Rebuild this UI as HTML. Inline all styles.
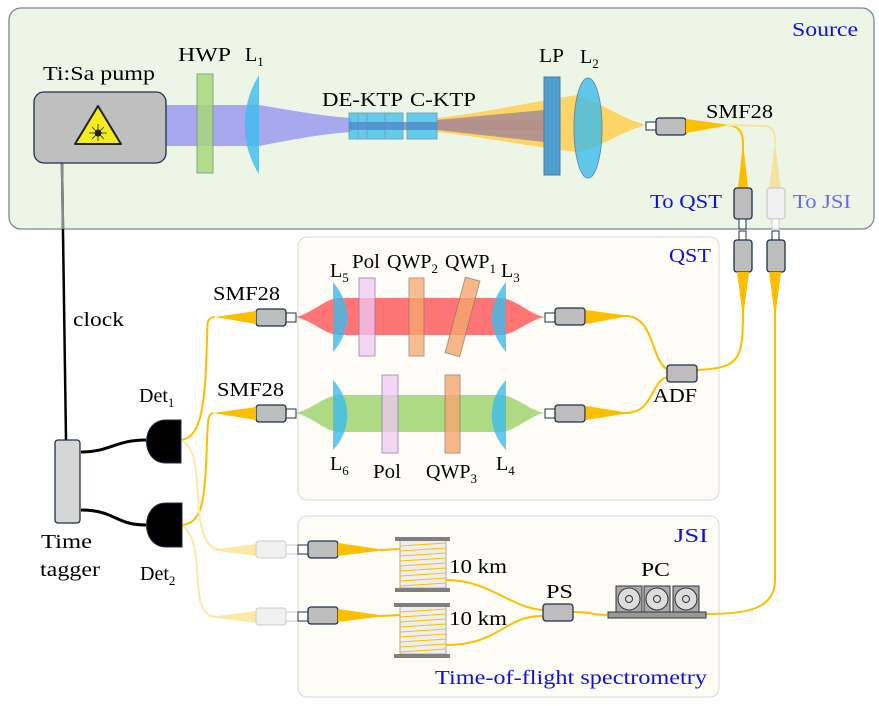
<!DOCTYPE html>
<html><head><meta charset="utf-8"><style>
html,body{margin:0;padding:0;background:#fff}
svg{display:block}
text{font-family:"Liberation Serif",serif;font-size:20px;fill:#000}
.b{fill:#1010e0}
</style></head><body>
<svg width="879" height="706" viewBox="0 0 879 706" xmlns="http://www.w3.org/2000/svg">
<defs>
<g id="cg"><rect x="0" y="0" width="30" height="17" rx="3" fill="#bdbdbd" stroke="#1f2f4a" stroke-width="1.3"/></g>
</defs>
<!-- boxes -->
<rect x="9" y="8" width="865" height="221" rx="12" fill="#edf5e6" stroke="#7a8898" stroke-width="1.3"/>
<rect x="298" y="237" width="421" height="263" rx="9" fill="#fdfcf6" stroke="#d8d8d8"/>
<rect x="298" y="516" width="421" height="181" rx="9" fill="#fdfcf6" stroke="#d8d8d8"/>
<text x="792" y="36" class="b" textLength="66" lengthAdjust="spacingAndGlyphs">Source</text>
<text x="669" y="262" class="b" textLength="42" lengthAdjust="spacingAndGlyphs">QST</text>
<text x="674" y="542" class="b" textLength="34" lengthAdjust="spacingAndGlyphs">JSI</text>
<text x="435" y="684" class="b" textLength="272" lengthAdjust="spacingAndGlyphs">Time-of-flight spectrometry</text>

<!-- pump -->
<line x1="62" y1="163" x2="66" y2="440" stroke="#000" stroke-width="2.5"/>
<line x1="62" y1="163" x2="63" y2="229" stroke="#888" stroke-width="2.5"/>
<text x="43" y="80" textLength="112" lengthAdjust="spacingAndGlyphs">Ti:Sa pump</text>
<text x="178" y="61" textLength="53" lengthAdjust="spacingAndGlyphs">HWP</text>
<text x="245" y="61">L<tspan dy="5" font-size="13">1</tspan></text>
<text x="322" y="106" textLength="81" lengthAdjust="spacingAndGlyphs">DE-KTP</text>
<text x="410" y="106" textLength="66" lengthAdjust="spacingAndGlyphs">C-KTP</text>
<text x="539" y="62" textLength="25" lengthAdjust="spacingAndGlyphs">LP</text>
<text x="580" y="63">L<tspan dy="5" font-size="13">2</tspan></text>
<text x="706" y="118" textLength="67" lengthAdjust="spacingAndGlyphs">SMF28</text>
<text x="650" y="208" class="b" textLength="72" lengthAdjust="spacingAndGlyphs">To QST</text>
<text x="793" y="208" class="b" style="fill:#6868f0" textLength="58" lengthAdjust="spacingAndGlyphs">To JSI</text>

<!-- blue beam -->
<path d="M166,105 L259,105 C290,110 320,116 352,118 L352,132 C320,134 290,140 259,146 L166,146 Z" fill="#a8a8ee"/>
<!-- yellow cone -->
<path d="M437,118 C490,112 540,100 578,95 C605,105 625,120 646,125 C625,130 605,145 578,152 C540,148 490,138 437,132 Z" fill="#fdd566"/>
<path d="M437,120 L544,110 L544,142 L437,130 Z" fill="#b4968c"/>
<rect x="437" y="120" width="107" height="10" fill="#b48c88" opacity="0.6"/>
<rect x="197" y="74" width="16" height="99" fill="#a9d87c" stroke="#6f9a8a" opacity="0.85"/>
<path d="M259,75 C240,105 240,145 259,174 Z" fill="#3cbcec" opacity="0.8"/>
<g fill="#4ec4ec" stroke="#5a9ab8" opacity="0.85">
<rect x="349" y="113" width="9" height="26"/><rect x="358" y="113" width="9" height="26"/><rect x="367" y="113" width="18" height="26"/><rect x="385" y="113" width="18" height="26"/>
<rect x="407" y="113" width="30" height="26"/>
</g>
<rect x="349" y="122" width="88" height="8" fill="#4a80c8" opacity="0.7"/>
<rect x="544" y="77" width="16" height="98" fill="#4f9fd0" stroke="#4a7a9a"/>
<ellipse cx="588" cy="128" rx="14" ry="50" fill="#3cbcec" stroke="#4a7a9a" opacity="0.8"/>
<!-- pump box -->
<rect x="34" y="92" width="132" height="71" rx="10" fill="#bfbfbf" stroke="#1f2f4a" stroke-width="1.3"/>
<path d="M98,106 L121,144 L75,144 Z" fill="#f5ec1e" stroke="#222" stroke-width="2" stroke-linejoin="round"/>
<circle cx="98" cy="133" r="3.5" fill="#222"/>
<g stroke="#222" stroke-width="0.8"><line x1="89" y1="133" x2="107" y2="133"/><line x1="98" y1="124" x2="98" y2="141"/><line x1="92" y1="127" x2="104" y2="139"/><line x1="104" y1="127" x2="92" y2="139"/></g>

<!-- source fiber -->
<rect x="646" y="122" width="10" height="8" fill="#fff" stroke="#1f2f4a"/>
<use href="#cg" x="656" y="118"/>
<path d="M686,119 L730,125 L686,133 Z" fill="#fbbf00"/>
<path d="M725,125 C745,125 743,140 743,150" fill="none" stroke="#fbbf00" stroke-width="2"/>
<path d="M725,125 L765,126 C775,127 775,135 775,145" fill="none" stroke="#f8e2a0" stroke-width="2"/>
<path d="M743,142 L748,188 L738,188 Z" fill="#fbbf00"/>
<path d="M775,142 L781,190 L769,190 Z" fill="#f5e2a0"/>
<rect x="734" y="188" width="18" height="31" rx="3" fill="#bdbdbd" stroke="#1f2f4a" stroke-width="1.3"/>
<rect x="767" y="188" width="18" height="31" rx="3" fill="#f0f0f0" stroke="#ccc" stroke-width="1.3"/>
<rect x="739" y="219" width="7" height="10" fill="#fff" stroke="#1f2f4a"/>
<rect x="739" y="231" width="7" height="9" fill="#fff" stroke="#1f2f4a"/>
<rect x="772" y="219" width="7" height="10" fill="#fff" stroke="#ccc"/>
<rect x="772" y="231" width="7" height="9" fill="#fff" stroke="#1f2f4a"/>
<rect x="734" y="240" width="18" height="32" rx="3" fill="#bdbdbd" stroke="#1f2f4a" stroke-width="1.3"/>
<rect x="767" y="240" width="18" height="32" rx="3" fill="#bdbdbd" stroke="#1f2f4a" stroke-width="1.3"/>
<path d="M737,272 L749,272 L743,318 Z" fill="#fbbf00"/>
<path d="M769,272 L781,272 L775,318 Z" fill="#fbbf00"/>
<path d="M743,310 C743,360 740,368 697,370" fill="none" stroke="#fbbf00" stroke-width="2"/>
<path d="M775,310 L775,580 C775,610 745,614 706,614" fill="none" stroke="#fbbf00" stroke-width="2"/>

<!-- QST -->
<path d="M296,317 C315,312 325,298 340,298 L500,298 C515,298 530,315 545,317 C530,319 515,335 500,335 L340,335 C325,335 315,322 296,317 Z" fill="#ff6e6e" opacity="0.95"/>
<path d="M296,413 C315,408 325,395 340,395 L500,395 C515,395 530,411 545,413 C530,415 515,432 500,432 L340,432 C325,432 315,418 296,413 Z" fill="#a9d87c" opacity="0.95"/>
<g opacity="0.8" fill="#3cbcec">
<path d="M333,282 C352,305 352,330 333,352 Z"/><path d="M506,282 C487,305 487,330 506,352 Z"/>
<path d="M333,380 C352,400 352,430 333,450 Z"/><path d="M506,380 C487,400 487,430 506,450 Z"/>
</g>
<rect x="359" y="278" width="16" height="78" fill="#f0c8f4" stroke="#8a7aa0" opacity="0.75"/>
<rect x="409" y="278" width="15" height="78" fill="#f5a870" stroke="#9a7a6a" opacity="0.75"/>
<rect x="455" y="278" width="15" height="78" fill="#f5a870" stroke="#9a7a6a" opacity="0.8" transform="rotate(15 463 317)"/>
<rect x="382" y="375" width="16" height="78" fill="#f0c8f4" stroke="#8a7aa0" opacity="0.75"/>
<rect x="445" y="375" width="15" height="78" fill="#f5a870" stroke="#9a7a6a" opacity="0.8"/>
<text x="330" y="277">L<tspan dy="5" font-size="13">5</tspan></text>
<text x="352" y="268" textLength="28" lengthAdjust="spacingAndGlyphs">Pol</text>
<text x="387" y="268">QWP<tspan dy="5" font-size="13">2</tspan></text>
<text x="445" y="268">QWP<tspan dy="5" font-size="13">1</tspan></text>
<text x="501" y="277">L<tspan dy="5" font-size="13">3</tspan></text>
<text x="330" y="470">L<tspan dy="5" font-size="13">6</tspan></text>
<text x="373" y="478" textLength="28" lengthAdjust="spacingAndGlyphs">Pol</text>
<text x="426" y="478">QWP<tspan dy="5" font-size="13">3</tspan></text>
<text x="496" y="470">L<tspan dy="5" font-size="13">4</tspan></text>
<text x="213" y="300" textLength="67" lengthAdjust="spacingAndGlyphs">SMF28</text>
<text x="217" y="396" textLength="67" lengthAdjust="spacingAndGlyphs">SMF28</text>
<text x="653" y="402" textLength="44" lengthAdjust="spacingAndGlyphs">ADF</text>
<!-- QST connectors -->
<rect x="286" y="313" width="10" height="9" fill="#fff" stroke="#1f2f4a"/>
<use href="#cg" x="256" y="309"/>
<rect x="286" y="409" width="10" height="9" fill="#fff" stroke="#1f2f4a"/>
<use href="#cg" x="256" y="405"/>
<rect x="545" y="313" width="10" height="9" fill="#fff" stroke="#1f2f4a"/>
<use href="#cg" x="555" y="308"/>
<rect x="545" y="409" width="10" height="9" fill="#fff" stroke="#1f2f4a"/>
<use href="#cg" x="555" y="405"/>
<path d="M256,311 L215,317 L256,324 Z" fill="#fbbf00"/>
<path d="M256,407 L213,413 L256,420 Z" fill="#fbbf00"/>
<path d="M586,310 L630,316 L586,324 Z" fill="#fbbf00"/>
<path d="M586,406 L630,413 L586,420 Z" fill="#fbbf00"/>
<path d="M625,316 C655,316 650,360 668,370" fill="none" stroke="#fbbf00" stroke-width="2"/>
<path d="M625,413 C655,413 650,380 668,377" fill="none" stroke="#fbbf00" stroke-width="2"/>
<rect x="667" y="365" width="30" height="17" rx="3" fill="#bdbdbd" stroke="#1f2f4a" stroke-width="1.3"/>
<text x="73" y="326" textLength="51" lengthAdjust="spacingAndGlyphs">clock</text>

<!-- detectors -->
<path d="M215,317 C205,318 208,325 207,340 C205,400 203,437 181,440" fill="none" stroke="#fbbf00" stroke-width="2"/>
<path d="M213,413 C207,414 208,425 207,440 C205,500 203,523 182,525" fill="none" stroke="#fbbf00" stroke-width="2"/>
<path d="M181,440 C200,450 195,480 200,520 C205,545 210,549 225,550" fill="none" stroke="#fde8a8" stroke-width="2"/>
<path d="M182,525 C200,540 195,570 200,600 C205,617 210,617 225,617" fill="none" stroke="#fde8a8" stroke-width="2"/>
<path d="M210,550 L256,544 L256,556 Z" fill="#fde8a8"/>
<path d="M210,617 L256,611 L256,623 Z" fill="#fde8a8"/>
<rect x="256" y="541" width="30" height="17" rx="3" fill="#f0f0f0" stroke="#ccc"/>
<rect x="256" y="608" width="30" height="17" rx="3" fill="#f0f0f0" stroke="#ccc"/>
<rect x="286" y="545" width="12" height="9" fill="#fff" stroke="#ccc"/>
<rect x="286" y="612" width="12" height="9" fill="#fff" stroke="#ccc"/>
<path d="M81,452 C110,452 115,440 146,440" fill="none" stroke="#000" stroke-width="3"/>
<path d="M81,510 C115,510 115,525 146,525" fill="none" stroke="#000" stroke-width="3"/>
<rect x="55" y="440" width="25" height="83" rx="3" fill="#d6d6d6" stroke="#1f2f4a" stroke-width="1.3"/>
<path d="M181,420 L166,420 C140,420 140,463 166,463 L181,463 Z" fill="#000" stroke="#1f2f4a"/>
<path d="M182,503 L166,503 C140,503 140,547 166,547 L182,547 Z" fill="#000" stroke="#1f2f4a"/>
<text x="139" y="402">Det<tspan dy="5" font-size="13">1</tspan></text>
<text x="140" y="580">Det<tspan dy="5" font-size="13">2</tspan></text>
<text x="41" y="548" textLength="51" lengthAdjust="spacingAndGlyphs">Time</text>
<text x="40" y="576" textLength="60" lengthAdjust="spacingAndGlyphs">tagger</text>

<!-- JSI -->
<rect x="298" y="545" width="10" height="9" fill="#fff" stroke="#1f2f4a"/>
<use href="#cg" x="308" y="541"/>
<rect x="298" y="612" width="10" height="9" fill="#fff" stroke="#1f2f4a"/>
<use href="#cg" x="308" y="607"/>
<path d="M338,543 L385,550 L338,556 Z" fill="#fbbf00"/>
<path d="M338,609 L385,616 L338,622 Z" fill="#fbbf00"/>
<path d="M380,550 L400,549" stroke="#fbbf00" stroke-width="2"/>
<path d="M380,616 L400,615" stroke="#fbbf00" stroke-width="2"/>
<g>
<rect x="400" y="540" width="46" height="48" fill="#eeeeee" stroke="#aaa"/>
<rect x="395" y="537" width="55" height="4" fill="#7f7f7f"/>
<rect x="395" y="588" width="55" height="4" fill="#7f7f7f"/>
<rect x="400" y="606" width="46" height="48" fill="#eeeeee" stroke="#aaa"/>
<rect x="394" y="603" width="56" height="4" fill="#7f7f7f"/>
<rect x="394" y="654" width="56" height="4" fill="#7f7f7f"/>
<g stroke="#fbbf00" stroke-width="0.9">
<line x1="400" y1="546" x2="446" y2="543"/><line x1="400" y1="551" x2="446" y2="548"/><line x1="400" y1="556" x2="446" y2="553"/><line x1="400" y1="561" x2="446" y2="558"/><line x1="400" y1="566" x2="446" y2="563"/><line x1="400" y1="571" x2="446" y2="568"/><line x1="400" y1="576" x2="446" y2="573"/><line x1="400" y1="581" x2="446" y2="578"/><line x1="400" y1="586" x2="446" y2="583"/>
<line x1="400" y1="612" x2="446" y2="609"/><line x1="400" y1="617" x2="446" y2="614"/><line x1="400" y1="622" x2="446" y2="619"/><line x1="400" y1="627" x2="446" y2="624"/><line x1="400" y1="632" x2="446" y2="629"/><line x1="400" y1="637" x2="446" y2="634"/><line x1="400" y1="642" x2="446" y2="639"/><line x1="400" y1="647" x2="446" y2="644"/><line x1="400" y1="652" x2="446" y2="649"/>
</g>
</g>
<path d="M446,580 C490,580 510,608 543,610" fill="none" stroke="#fbbf00" stroke-width="2"/>
<path d="M446,645 C500,645 505,615 543,616" fill="none" stroke="#fbbf00" stroke-width="2"/>
<path d="M573,612 C595,612 590,615 607,615" fill="none" stroke="#fbbf00" stroke-width="2"/>
<rect x="543" y="604" width="30" height="17" rx="3" fill="#bdbdbd" stroke="#1f2f4a" stroke-width="1.3"/>
<text x="449" y="573" textLength="58" lengthAdjust="spacingAndGlyphs">10 km</text>
<text x="449" y="625" textLength="58" lengthAdjust="spacingAndGlyphs">10 km</text>
<text x="546" y="598" textLength="27" lengthAdjust="spacingAndGlyphs">PS</text>
<text x="641" y="576" textLength="29" lengthAdjust="spacingAndGlyphs">PC</text>
<g stroke="#333" stroke-width="1">
<rect x="616" y="586" width="26" height="26" fill="#aaa"/>
<rect x="644" y="586" width="26" height="26" fill="#aaa"/>
<rect x="673" y="586" width="26" height="26" fill="#aaa"/>
<circle cx="629" cy="599" r="11" fill="#ddd"/><circle cx="629" cy="599" r="3.5" fill="none"/>
<circle cx="657" cy="599" r="11" fill="#ddd"/><circle cx="657" cy="599" r="3.5" fill="none"/>
<circle cx="686" cy="599" r="11" fill="#ddd"/><circle cx="686" cy="599" r="3.5" fill="none"/>
<rect x="608" y="612" width="98" height="6" fill="#999"/>
</g>
</svg>
</body></html>
